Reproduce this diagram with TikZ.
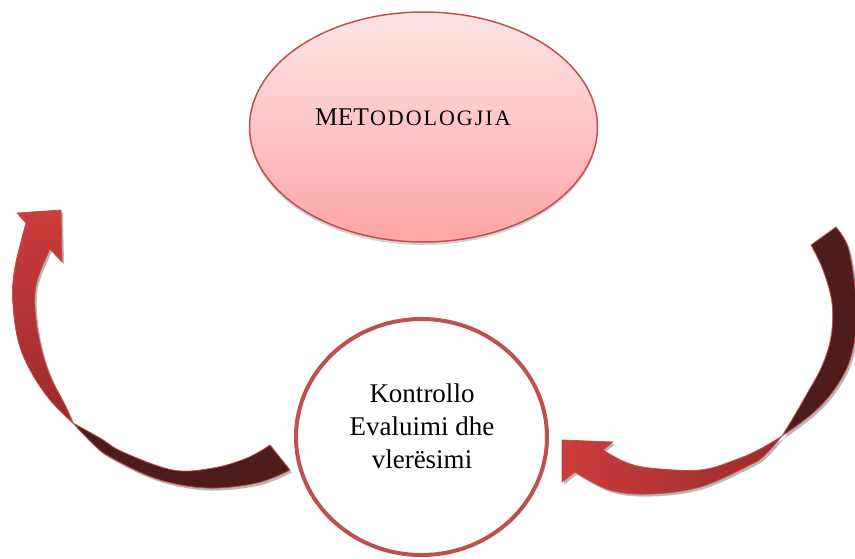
\documentclass[tikz,border=0pt]{standalone}
\usepackage{fontspec}
\setmainfont{Liberation Serif}
\usetikzlibrary{shapes.geometric,shadows}
\definecolor{edgered}{HTML}{C0504D}
\definecolor{arrred}{HTML}{CC3C3C}
\definecolor{arrmid}{HTML}{9A2B2B}
\definecolor{arrdark}{HTML}{4F1C1C}
\definecolor{pinktop}{HTML}{FFE5E5}
\definecolor{pinkbot}{HTML}{FFA5A5}
\newcommand\pathLeftRed{plot[smooth,tension=0.6] coordinates {(73,423) (50,400) (30,370) (18,340) (12.7,300) (15,267) (26,223)} -- (17,213) -- (61,210) -- (62,262) -- (50,249) -- plot[smooth,tension=0.6] coordinates {(50,249) (36,285) (36,320) (43,355) (52,380) (65,405) (73,423)} -- cycle}
\newcommand\pathLeftDark{plot[smooth,tension=0.6] coordinates {(73,423) (92,443) (110,457) (157,479) (207,488) (257,483) (290,470)} -- (270,445) -- plot[smooth,tension=0.6] coordinates {(270,445) (247,458) (213,468) (173,470) (123,452) (100,438) (73,423)} -- cycle}
\newcommand\pathRightRed{(562,440) -- (613,442) -- (603,450) -- plot[smooth,tension=0.6] coordinates {(603,450) (625,462) (650,468) (700,470) (735,460) (760,449) (782,436)} -- plot[smooth,tension=0.6] coordinates {(782,436) (765,455) (750,465) (700,487) (650,494) (610,490) (575,472)} -- (562,482) -- cycle}
\newcommand\pathRightDark{plot[smooth,tension=0.6] coordinates {(782,436) (793,418) (808,392) (822,366) (831,337) (832,303) (823,270) (811,245)} -- (836,227) -- plot[smooth,tension=0.6] coordinates {(836,227) (848,247) (855,287) (857,320) (850,360) (834,390) (812,414) (782,436)} -- cycle}
\newcommand\smallcapsgap{\kern2pt}
\tikzset{
  arrshadow/.style={fill=black!28, shift={(2,2.5)}},
  arrline/.style={draw=edgered, line width=0.8pt, line join=round},
  methbox/.style={ellipse, minimum width=348pt, minimum height=230pt, inner sep=0pt,
    draw=edgered, line width=1.5pt, top color=pinktop, bottom color=pinkbot,
    drop shadow={shadow xshift=0pt, shadow yshift=-3pt, fill=black!35}},
  ctrlbox/.style={ellipse, minimum width=251pt, minimum height=236pt, inner sep=0pt,
    draw=edgered, line width=4pt, fill=white},
  bigtext/.style={inner sep=0pt, text=black}
}
\begin{document}
\begin{tikzpicture}[x=1pt,y=-1pt]
\useasboundingbox (0,0) rectangle (855,558);
\clip (0,0) rectangle (855,558);
% shadows of arrows
\fill[arrshadow] \pathLeftRed;
\fill[arrshadow] \pathLeftDark;
\fill[arrshadow] \pathRightRed;
\fill[arrshadow] \pathRightDark;
% left arrow
\path[arrline, top color=arrred, bottom color=arrmid] \pathLeftRed;
\path[arrline, fill=arrdark] \pathLeftDark;
% right arrow
\path[arrline, left color=arrred, right color=arrmid] \pathRightRed;
\path[arrline, fill=arrdark] \pathRightDark;
% top ellipse
\node[methbox] (meth) at (423.5,127) {};
\node[bigtext, anchor=base west, font=\fontsize{25.5}{30}\selectfont] (methtxt) at (315,125)
  {MET\kern1pt{\fontsize{22}{22}\selectfont O\smallcapsgap D\smallcapsgap O\smallcapsgap L\smallcapsgap O\smallcapsgap G\smallcapsgap J\smallcapsgap I\smallcapsgap A}};
% bottom circle
\node[ctrlbox] (ctrl) at (421.5,437) {};
\node[bigtext, align=center, font=\fontsize{27}{33}\selectfont] (ctrltxt) at (422,426)
  {Kontrollo\\Evaluimi dhe\\vlerësimi};
\end{tikzpicture}
\end{document}
